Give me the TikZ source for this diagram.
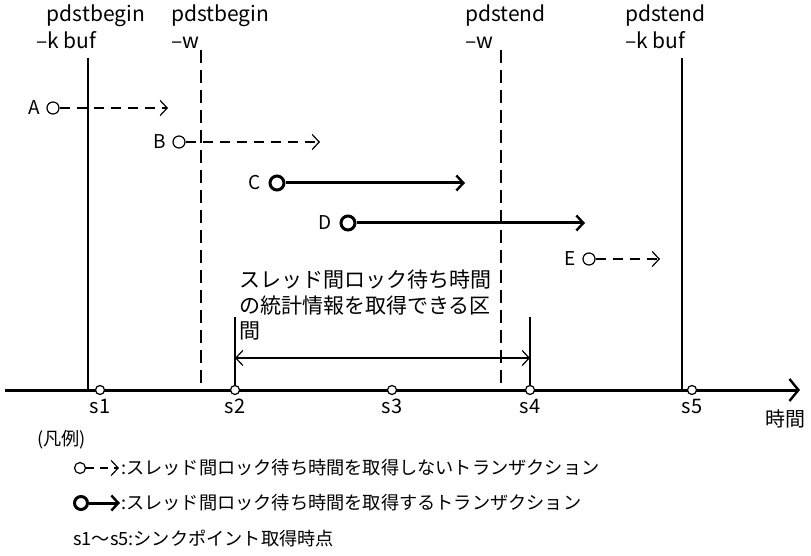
\documentclass[tikz,border=0pt]{standalone}
\usepackage{fontspec}
\setmainfont{Noto Sans CJK JP}
\usetikzlibrary{arrows.meta}
\tikzset{
    sync-point/.style = {draw, circle, fill=white, line width=1.2pt, inner sep=0pt, minimum size=9pt},
    tx-start/.style = {draw, circle, fill=white, line width=1.2pt, inner sep=0pt, minimum size=12pt},
    tx-start-bold/.style = {draw, circle, fill=white, line width=3pt, inner sep=0pt, minimum size=14pt},
    tx-nowait/.style = {line width=1.2pt, dash pattern=on 10pt off 7pt, -{Straight Barb[length=7pt, width=15pt, line width=1.2pt]}},
    tx-wait/.style = {line width=3pt, -{Straight Barb[length=7pt, width=15pt, line width=2.4pt]}},
    cmd-line/.style = {line width=1.4pt},
    cmd-line-w/.style = {line width=1.4pt, dash pattern=on 13pt off 7pt},
    cmd-label/.style = {align=left, anchor=north west, inner sep=0pt, font=\fontsize{21}{27}\selectfont},
    tx-label/.style = {anchor=east, inner sep=0pt},
    legend-text/.style = {anchor=west, inner sep=0pt, font=\fontsize{18.2}{22}\selectfont},
}

\begin{document}
\begin{tikzpicture}[x=1pt, y=-1pt, font=\fontsize{19}{27}\selectfont]
\useasboundingbox (0,0) rectangle (811,556);

% time axis
\coordinate (t0) at (5,390);
\coordinate (t1) at (800,390);
\draw [line width=3pt, -{Straight Barb[length=9pt, width=22pt, line width=2.4pt]}] (t0) -- (t1);
\node [anchor=north, inner sep=0pt, font=\fontsize{20}{24}\selectfont] (jikan) at (785,409) {時間};

% command lines
\node [cmd-label] (lbl-begin-k) at (36,5) {\hspace*{0.5em}pdstbegin\\--k buf};
\node [cmd-label] (lbl-begin-w) at (171,5) {pdstbegin\\--w};
\node [cmd-label] (lbl-end-w) at (465,5) {pdstend\\--w};
\node [cmd-label] (lbl-end-k) at (625,5) {pdstend\\--k buf};
\coordinate (begin-k-top) at (88,58);
\coordinate (begin-w-top) at (201,50);
\coordinate (end-w-top) at (501,50);
\coordinate (end-k-top) at (682,58);
\draw [cmd-line] (begin-k-top) -- (begin-k-top |- t0);
\draw [cmd-line-w] (begin-w-top) -- (begin-w-top |- t0);
\draw [cmd-line-w] (end-w-top) -- (end-w-top |- t0);
\draw [cmd-line] (end-k-top) -- (end-k-top |- t0);

% interval
\coordinate (iv-l) at (235,317);
\coordinate (iv-r) at (530,317);
\draw [line width=1.4pt] (iv-l) -- (iv-l |- t0);
\draw [line width=1.4pt] (iv-r) -- (iv-r |- t0);
\draw [line width=1.2pt, {Straight Barb[length=7pt, width=15pt]}-{Straight Barb[length=7pt, width=15pt]}] (235,358) -- (530,358);
\node [cmd-label, font=\fontsize{21}{25.5}\selectfont] (iv-text) at (239,270) {スレッド間ロック待ち時間\\の統計情報を取得できる区\\間};

% sync points
\foreach \n/\x in {1/100, 2/235, 3/392, 4/530, 5/692} {
    \node [sync-point] (s\n) at (\x,390) {};
    \node [anchor=north, inner sep=0pt, font=\fontsize{20}{24}\selectfont] (s\n-label) at (\x,399) {s\n};
}

% transactions
\node [tx-start] (tx-a) at (53,108) {};
\node [tx-label] (tx-a-label) at (40,108) {A};
\coordinate (tx-a-end) at (168,108);
\draw [tx-nowait] (tx-a) -- (tx-a-end);

\node [tx-start] (tx-b) at (179,142) {};
\node [tx-label] (tx-b-label) at (166,142) {B};
\coordinate (tx-b-end) at (320,142);
\draw [tx-nowait] (tx-b) -- (tx-b-end);

\node [tx-start-bold] (tx-c) at (277,183) {};
\node [tx-label] (tx-c-label) at (261,183) {C};
\coordinate (tx-c-end) at (465,183);
\draw [tx-wait] (tx-c) -- (tx-c-end);

\node [tx-start-bold] (tx-d) at (348,223) {};
\node [tx-label] (tx-d-label) at (332,223) {D};
\coordinate (tx-d-end) at (585,223);
\draw [tx-wait] (tx-d) -- (tx-d-end);

\node [tx-start] (tx-e) at (589,259) {};
\node [tx-label] (tx-e-label) at (576,259) {E};
\coordinate (tx-e-end) at (660,259);
\draw [tx-nowait] (tx-e) -- (tx-e-end);

% legend
\node [legend-text] (legend) at (37,440) {(凡例)};
\node [tx-start, minimum size=11pt] (lg-nowait) at (80,468) {};
\coordinate (lg-nowait-end) at (119,468);
\draw [tx-nowait, dash pattern=on 8pt off 6pt] (lg-nowait) -- (lg-nowait-end);
\node [legend-text] (lg-nowait-text) at (121,468) {:スレッド間ロック待ち時間を取得しないトランザクション};
\node [tx-start-bold, minimum size=13pt] (lg-wait) at (81,503) {};
\coordinate (lg-wait-end) at (120,503);
\draw [tx-wait] (lg-wait) -- (lg-wait-end);
\node [legend-text] (lg-wait-text) at (121,503) {:スレッド間ロック待ち時間を取得するトランザクション};
\node [legend-text] (lg-sync) at (73,539) {s1～s5:シンクポイント取得時点};
\end{tikzpicture}
\end{document}
